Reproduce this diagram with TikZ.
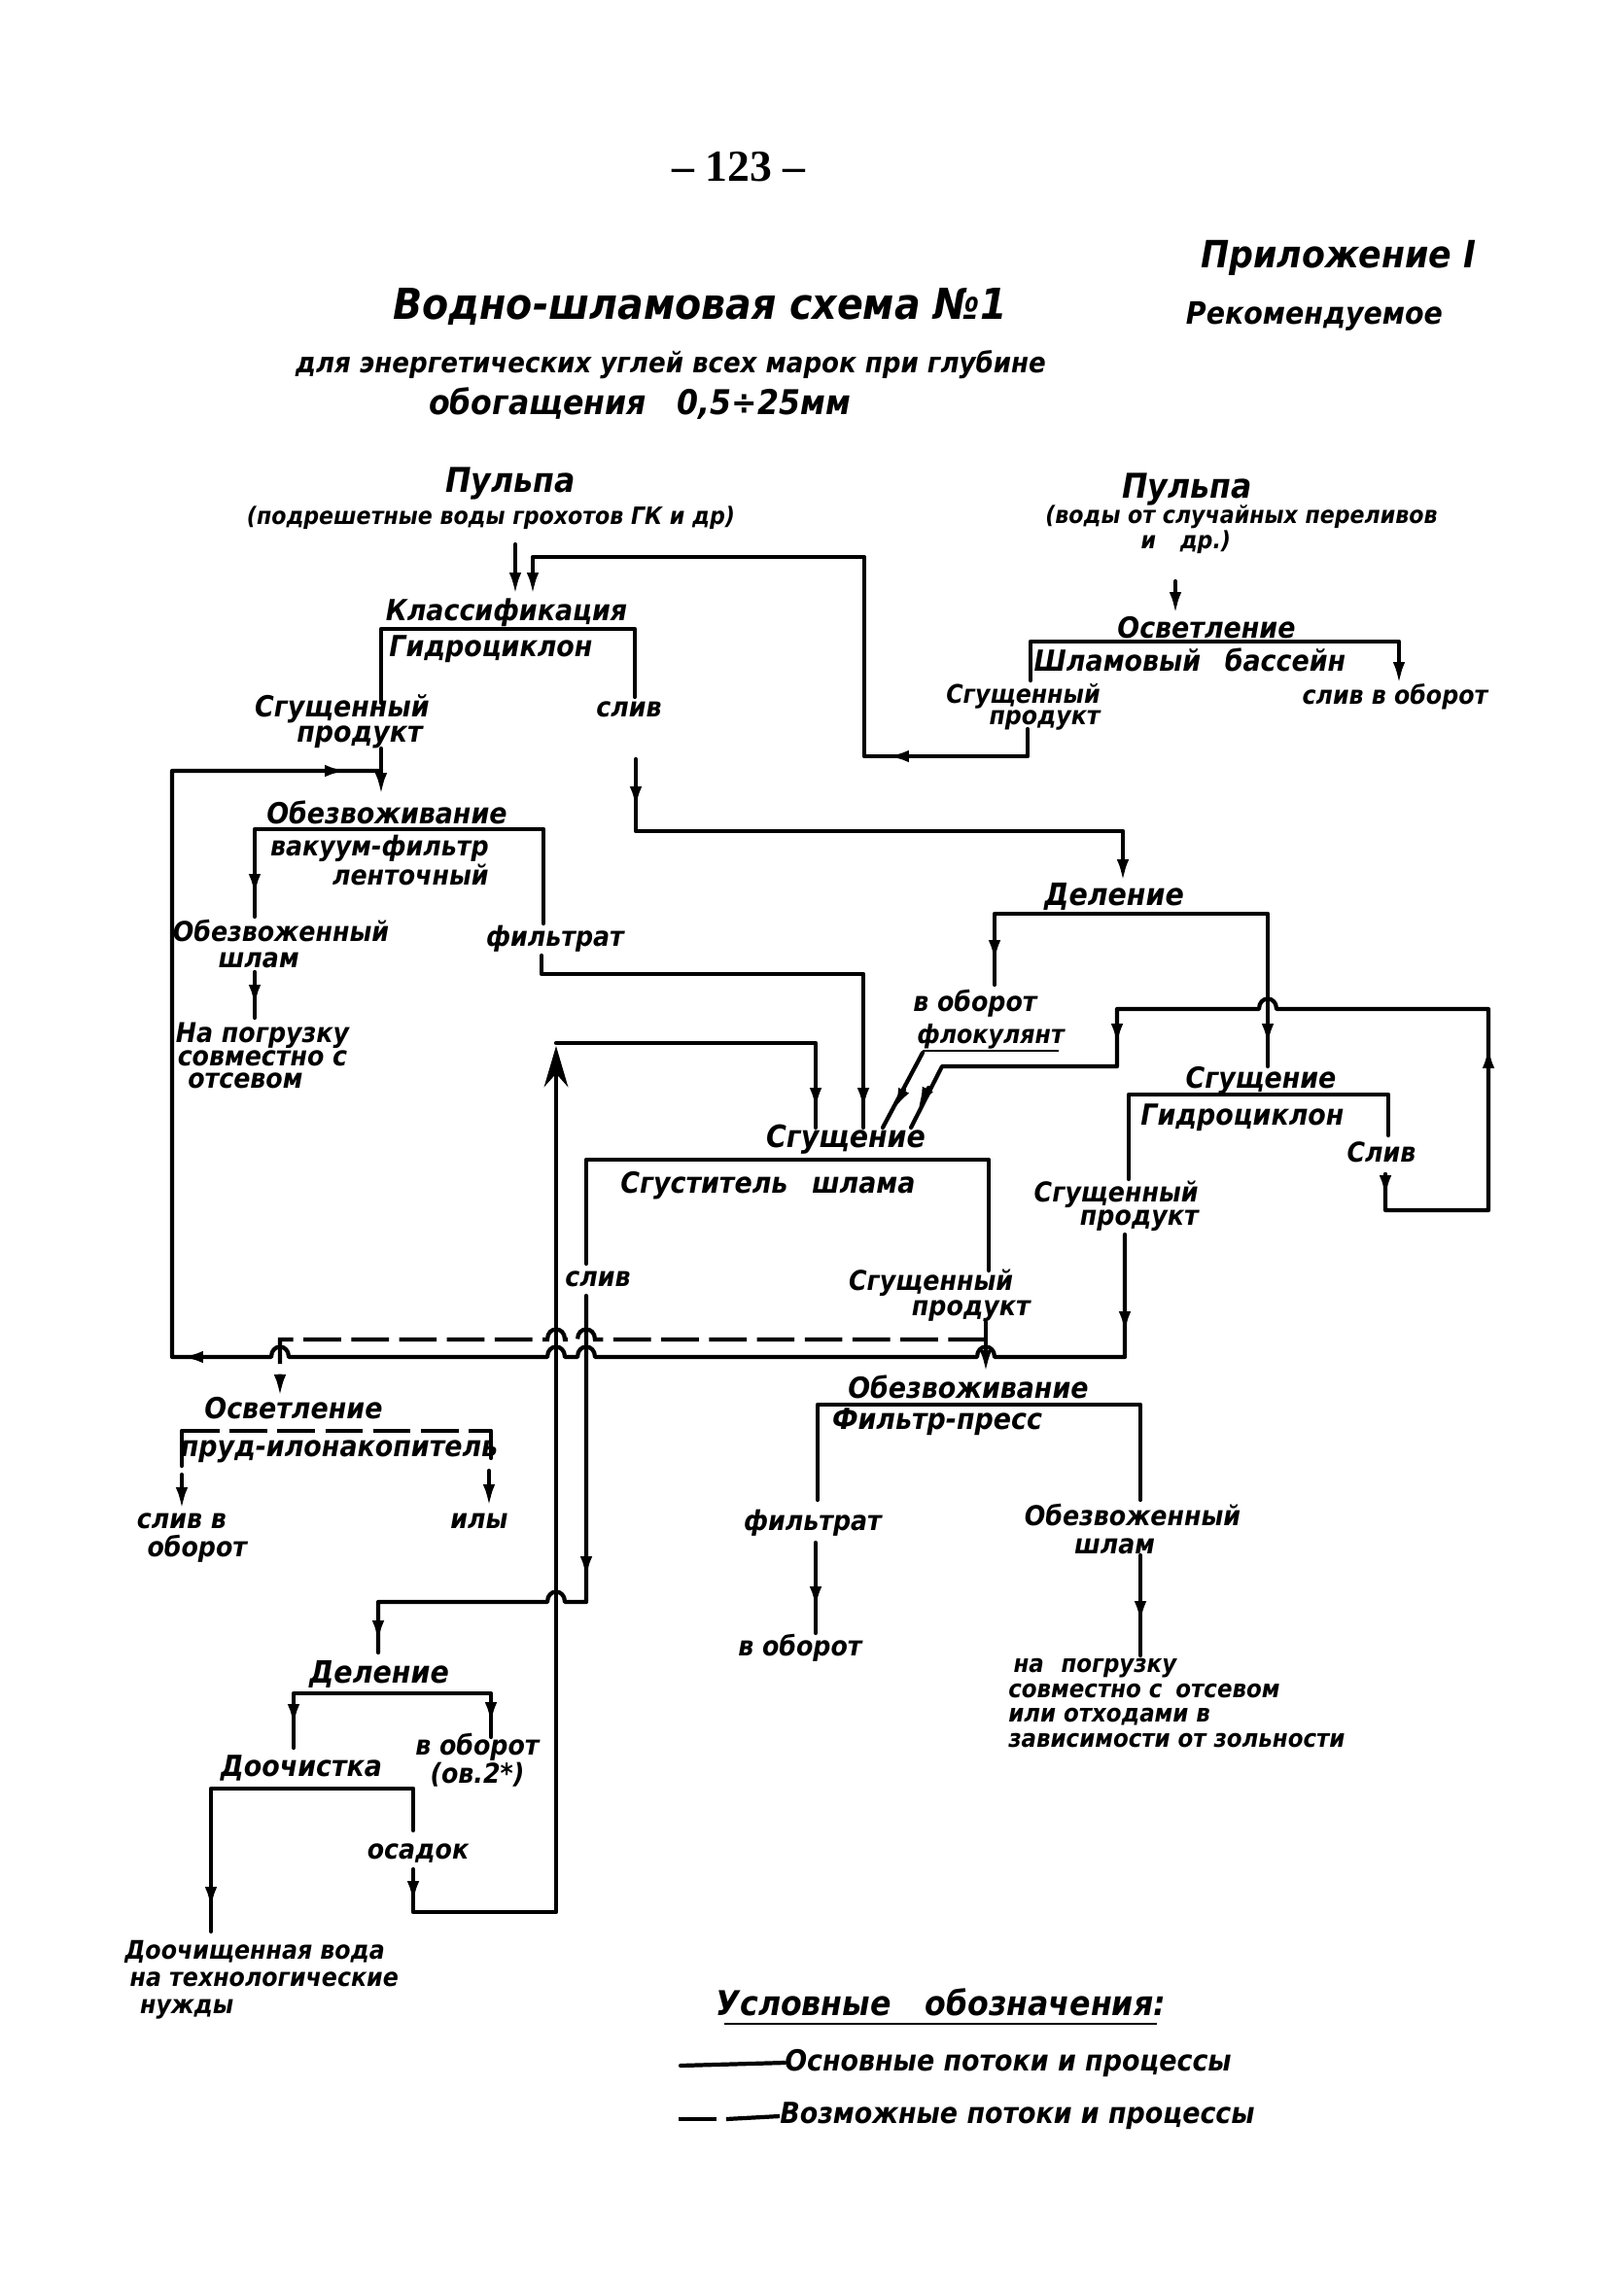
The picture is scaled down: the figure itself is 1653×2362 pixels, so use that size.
\documentclass[tikz,border=0pt]{standalone}
\usepackage{fontspec}
\setmainfont{DejaVu Sans Condensed}
\newfontfamily\pgfont{Liberation Serif}
\usetikzlibrary{arrows.meta}
\newcommand\myarr[2]{\draw[ln,-{Latex[length=13pt,width=7pt]}] #1 -- #2;}
\begin{document}
\begin{tikzpicture}[x=0.02cm,y=-0.02cm,
  ln/.style={line width=2.4pt, line join=round, line cap=round},
  dsh/.style={line width=2.4pt, dash pattern=on 22pt off 6pt},
  tx/.style={inner sep=0pt},
  fz/.style={font=\fontsize{#1}{#1}\selectfont\bfseries\itshape},
  fzl/.style args={#1/#2}{font=\fontsize{#1}{#2}\selectfont\bfseries\itshape}]
\useasboundingbox[fill=white] (0,0) rectangle (1653,2362);

% ---------- header ----------
\node[tx,font=\pgfont\bfseries\fontsize{26}{26}\selectfont] (pg) at (760,172) {– 123 –};
\node[tx,fz=22] (app) at (1377,265) {Приложение I};
\node[tx,fz=18] (rec) at (1352,325) {Рекомендуемое};
\node[tx,fz=25] (t1) at (720,316) {Водно-шламовая схема №1};
\node[tx,fz=16.5] (t2) at (690,375) {для энергетических углей всех марок при глубине};
\node[tx,fz=20] (t3) at (658,415) {обогащения\hspace{18pt}0,5÷25мм};

% ---------- top left ----------
\node[tx,fz=20] (pl) at (525,497) {Пульпа};
\node[tx,fz=14] (pld) at (505,533) {(подрешетные воды грохотов ГК и др)};
\node[tx,fz=17] (kl) at (521,630) {Классификация};
\node[tx,fz=17] (gc1) at (505,668) {Гидроциклон};
\node[tx,fzl=17/15,align=right,anchor=east] (sp1) at (442,742) {Сгущенный\\продукт\hspace*{4pt}};
\node[tx,fz=16] (sl1) at (647,730) {слив};

% ---------- top right ----------
\node[tx,fz=20] (pr) at (1221,503) {Пульпа};
\node[tx,fzl=14/14.7,align=center] (prd) at (1277,545) {(воды от случайных переливов\\и\hspace{14pt}др.)\hspace*{65pt}};
\node[tx,fz=17] (os1) at (1241,646) {Осветление};
\node[tx,fz=17] (bas) at (1224,679) {Шламовый\hspace{14pt}бассейн};
\node[tx,fzl=15/11.5,align=right,anchor=east] (sp2) at (1132,727) {Сгущенный\\продукт};
\node[tx,fz=15] (sob1) at (1435,717) {слив в оборот};

% ---------- vacuum filter ----------
\node[tx,fz=17] (ob1) at (398,836) {Обезвоживание};
\node[tx,fzl=16/14.7,align=right,anchor=east] (vf) at (503,885) {вакуум-фильтр\\ленточный};
\node[tx,fzl=16/15.3,align=center] (osh1) at (289,971) {Обезвоженный\\шлам\hspace*{26pt}};
\node[tx,fzl=16/13.5,align=center] (np1) at (270,1086) {На погрузку\\совместно с\\отсевом\hspace*{20pt}};
\node[tx,fz=16] (fl1) at (571,966) {фильтрат};

% ---------- division / hydrocyclone ----------
\node[tx,fz=18] (de1) at (1146,922) {Деление};
\node[tx,fz=16] (vo1) at (1003,1032) {в оборот};
\node[tx,fz=15] (flk) at (1019,1066) {флокулянт};
\draw[line width=1.6pt] (949,1081) -- (1089,1081);
\node[tx,fz=17] (sg2) at (1297,1112) {Сгущение};
\node[tx,fz=17] (gc2) at (1278,1150) {Гидроциклон};
\node[tx,fz=16] (sl2) at (1421,1185) {Слив};
\node[tx,fzl=16/13.6,align=right,anchor=east] (sp3) at (1233,1241) {Сгущенный\\продукт};

% ---------- thickener ----------
\node[tx,fz=18] (sg3) at (870,1172) {Сгущение};
\node[tx,fz=17] (sgs) at (790,1220) {Сгуститель\hspace{14pt}шлама};
\node[tx,fz=16] (sl3) at (615,1316) {слив};
\node[tx,fzl=16/14.7,align=right,anchor=east] (sp4) at (1060,1333) {Сгущенный\hspace*{10pt}\\продукт};

% ---------- filter press ----------
\node[tx,fz=17] (ob2) at (996,1427) {Обезвоживание};
\node[tx,fz=17] (fp) at (964,1463) {Фильтр-пресс};
\node[tx,fz=16] (fl2) at (836,1567) {фильтрат};
\node[tx,fz=16] (vo2) at (823,1695) {в оборот};
\node[tx,fzl=16/16,align=center] (osh2) at (1165,1573) {Обезвоженный\\шлам\hspace*{21pt}};
\node[tx,fzl=14.5/14.5,align=left,anchor=west] (np2) at (1037,1752) {\hspace*{3pt}на\hspace{10pt}погрузку\\совместно с\hspace{8pt}отсевом\\или отходами в\\зависимости от зольности};

% ---------- pond ----------
\node[tx,fz=17] (os2) at (302,1449) {Осветление};
\node[tx,fz=17] (prud) at (349,1493) {пруд-илонакопитель};
\node[tx,fzl=16/16.5,align=center] (sob2) at (187,1582) {слив в\\\hspace*{18pt}оборот};
\node[tx,fz=16] (ily) at (493,1565) {илы};

% ---------- bottom division ----------
\node[tx,fz=18] (de2) at (390,1722) {Деление};
\node[tx,fzl=16/16.5,align=center] (vo3) at (491,1811) {в оборот\\(ов.2*)};
\node[tx,fz=17] (doo) at (310,1819) {Доочистка};
\node[tx,fz=16] (osd) at (430,1907) {осадок};
\node[tx,fzl=15/16,align=left,anchor=west] (dv) at (128,2037) {Доочищенная вода\\\hspace*{3pt}на технологические\\\hspace*{9pt}нужды};

% ---------- legend ----------
\node[tx,fz=20] (leg) at (968,2060) {Условные\hspace{20pt}обозначения:};
\draw[line width=1.6pt] (745,2082) -- (1190,2082);
\node[tx,fz=17,anchor=west] (lg1) at (807,2122) {Основные потоки и процессы};
\node[tx,fz=17,anchor=west] (lg2) at (802,2177) {Возможные потоки и процессы};
\draw[ln] (700,2125) -- (lg1.west);
\draw[line width=2.4pt] (698,2180) -- (737,2180);
\draw[line width=2.4pt] (747,2180) -- (lg2.west);

% ================= connectors =================
% pulp -> classification
\draw[ln,-{Latex[length=13pt,width=7pt]}] (530,560) -- (530,612);
% return of thickened product from slime basin
\draw[ln] (1057,750) -- (1057,778) -- (889,778) -- (889,573) -- (548,573) -- (548,600);
\myarr{(548,590)}{(548,612)}
\myarr{(940,778)}{(912,778)}
% classification bracket
\draw[ln] (392,723) -- (392,647) -- (653,647) -- (653,717);
% thickened product -> vacuum filter
\draw[ln] (392,770) -- (392,805);
\myarr{(392,796)}{(392,818)}
% hydrocyclone thickened product -> big left loop -> vacuum filter
\draw[ln] (1157,1270) -- (1157,1396) -- (1023,1396)
   .. controls (1023,1382) and (1005,1382) .. (1005,1396) -- (612,1396)
   .. controls (612,1382) and (594,1382) .. (594,1396) -- (581,1396)
   .. controls (581,1382) and (563,1382) .. (563,1396) -- (297,1396)
   .. controls (297,1382) and (279,1382) .. (279,1396) -- (177,1396) -- (177,793) -- (392,793);
\myarr{(1157,1348)}{(1157,1372)}
\myarr{(212,1396)}{(186,1396)}
\myarr{(330,793)}{(357,793)}
% overflow -> division
\draw[ln] (654,781) -- (654,855) -- (1155,855) -- (1155,895);
\myarr{(654,808)}{(654,832)}
\myarr{(1155,885)}{(1155,907)}
% right pulp -> clarification
\draw[ln,-{Latex[length=13pt,width=7pt]}] (1209,598) -- (1209,632);
% slime basin bracket
\draw[ln] (1060,700) -- (1060,660) -- (1439,660) -- (1439,690);
\myarr{(1439,680)}{(1439,704)}
% vacuum filter bracket
\draw[ln] (262,943) -- (262,853) -- (559,853) -- (559,950);
\myarr{(262,898)}{(262,922)}
\draw[ln] (262,1000) -- (262,1047);
\myarr{(262,1012)}{(262,1036)}
% filtrate -> thickener
\draw[ln] (557,983) -- (557,1002) -- (888,1002) -- (888,1160);
\myarr{(888,1118)}{(888,1142)}
% division bracket
\draw[ln] (1023,1013) -- (1023,940) -- (1304,940) -- (1304,1097);
\myarr{(1023,966)}{(1023,990)}
\myarr{(1304,1052)}{(1304,1076)}
% hydrocyclone bracket
\draw[ln] (1161,1213) -- (1161,1126) -- (1428,1126) -- (1428,1168);
% hydrocyclone overflow loop -> thickener
\draw[ln] (1425,1208) -- (1425,1245) -- (1531,1245) -- (1531,1038) -- (1313,1038)
   .. controls (1313,1024) and (1295,1024) .. (1295,1038) -- (1149,1038) -- (1149,1097) -- (969,1097) -- (937,1160);
\myarr{(1425,1208)}{(1425,1232)}
\myarr{(1531,1100)}{(1531,1076)}
\myarr{(1149,1052)}{(1149,1076)}
\myarr{(955,1119)}{(944,1141)}
% flocculant
\draw[ln] (949,1083) -- (908,1160);
\myarr{(930,1121)}{(919,1142)}
% sediment return (big up-arrow) -> thickener
\draw[ln] (425,1923) -- (425,1967) -- (572,1967) -- (572,1090);
\draw[ln,-{Stealth[length=24pt,width=14pt]}] (572,1130) -- (572,1076);
\draw[ln] (572,1073) -- (839,1073) -- (839,1160);
\myarr{(839,1118)}{(839,1142)}
\myarr{(425,1934)}{(425,1958)}
% thickener bracket
\draw[ln] (603,1300) -- (603,1193) -- (1017,1193) -- (1017,1307);
% thickener overflow -> division (bottom)
\draw[ln] (603,1333) -- (603,1648) -- (581,1648)
   .. controls (581,1634) and (563,1634) .. (563,1648) -- (389,1648) -- (389,1700);
\myarr{(603,1600)}{(603,1624)}
\myarr{(389,1666)}{(389,1690)}
% thickened product -> filter press
\draw[ln] (1014,1360) -- (1014,1400);
\myarr{(1014,1388)}{(1014,1412)}
% possible flow -> pond
\draw[dsh] (1014,1378) -- (612,1378)
   .. controls (612,1364) and (594,1364) .. (594,1378) -- (581,1378)
   .. controls (581,1364) and (563,1364) .. (563,1378) -- (288,1378) -- (288,1420);
\draw[line width=2.4pt,-{Latex[length=13pt,width=7pt]}] (288,1415) -- (288,1437);
% filter press bracket
\draw[ln] (841,1543) -- (841,1445) -- (1173,1445) -- (1173,1543);
\draw[ln] (839,1587) -- (839,1680);
\myarr{(839,1630)}{(839,1655)}
\draw[ln] (1173,1600) -- (1173,1703);
\myarr{(1173,1645)}{(1173,1670)}
% pond bracket
\draw[ln] (187,1508) -- (187,1472);
\draw[dsh] (187,1472) -- (505,1472);
\draw[ln] (505,1472) -- (505,1500);
\draw[ln,-{Latex[length=13pt,width=7pt]}] (187,1517) -- (187,1553);
\draw[ln,-{Latex[length=13pt,width=7pt]}] (503,1513) -- (503,1550);
% bottom division bracket
\draw[ln] (302,1798) -- (302,1742) -- (505,1742) -- (505,1787);
\myarr{(302,1752)}{(302,1776)}
\myarr{(505,1750)}{(505,1774)}
% after-treatment bracket
\draw[ln] (217,1987) -- (217,1840) -- (425,1840) -- (425,1883);
\myarr{(217,1940)}{(217,1964)}
\end{tikzpicture}
\end{document}
